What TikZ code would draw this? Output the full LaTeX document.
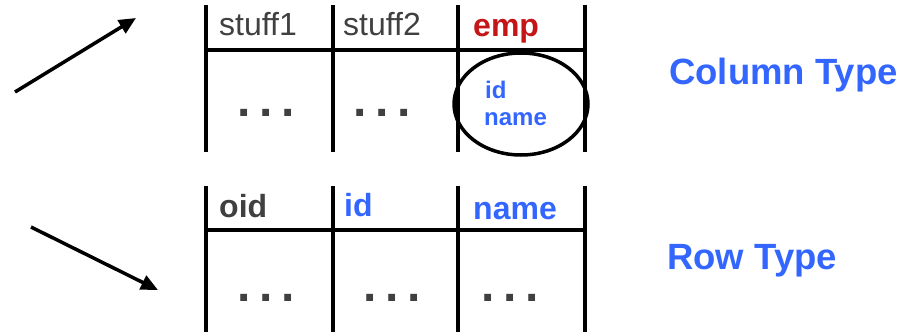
\documentclass[tikz,border=0pt]{standalone}
\usepackage{fontspec}
\setmainfont{Liberation Sans}
\usetikzlibrary{arrows.meta,shapes.geometric}
\definecolor{txtgray}{HTML}{404040}
\definecolor{tblue}{HTML}{3366FF}
\definecolor{tred}{HTML}{C41616}
\newcommand{\tdots}{.\hspace{8.5pt}.\hspace{8.5pt}.}
\tikzset{
  grid/.style={line width=3.5pt, black},
  hdr/.style={anchor=base west, inner sep=0pt, font=\fontsize{32}{32}\selectfont},
  hdrb/.style={anchor=base west, inner sep=0pt, font=\fontsize{32}{32}\selectfont\bfseries},
  small/.style={anchor=base west, inner sep=0pt, font=\fontsize{24}{24}\selectfont\bfseries, text=tblue},
  dots/.style={anchor=base, inner sep=0pt, font=\fontsize{48}{48}\selectfont\bfseries, text=txtgray},
  label/.style={anchor=base west, inner sep=0pt, font=\fontsize{36.5}{36.5}\selectfont\bfseries, text=tblue},
  arr/.style={line width=3.5pt, -{Triangle[length=17pt,width=15pt]}}
}
\begin{document}
\begin{tikzpicture}[x=1pt,y=-1pt]
\useasboundingbox (0,0) rectangle (909,332);
% top table
\draw[grid] (206,5) -- (206,152) (333,5) -- (333,152) (458,5) -- (458,152) (585,5) -- (585,152);
\draw[grid] (206,50) -- (585,50);
\node[hdr, text=txtgray] (s1) at (219,35) {stuff1};
\node[hdr, text=txtgray] (s2) at (343,35) {stuff2};
\node[hdrb, text=tred] (emp) at (473,36) {emp};
\node[dots] (d1) at (266,116.5) {\tdots};
\node[dots] (d2) at (382,116.5) {\tdots};
\node[draw, line width=3.5pt, ellipse, minimum width=134pt, minimum height=102pt, inner sep=0pt] (ell) at (521,104) {};
\node[small] (eid) at (485,98) {id};
\node[small] (ename) at (484,125) {name};
% bottom table
\draw[grid] (206,186) -- (206,332) (333,186) -- (333,332) (458,186) -- (458,332) (585,186) -- (585,332);
\draw[grid] (206,230) -- (585,230);
\node[hdrb, text=txtgray] (oid) at (219,217) {oid};
\node[hdrb, text=tblue] (rid) at (344,216) {id};
\node[hdrb, text=tblue] (rname) at (473,219) {name};
\node[dots] (d3) at (266,301.5) {\tdots};
\node[dots] (d4) at (392,301.5) {\tdots};
\node[dots] (d5) at (510,301.5) {\tdots};
% labels
\node[label] (ct) at (669,84) {Column Type};
\node[label] (rt) at (667,269) {Row Type};
% arrows
\coordinate (a1s) at (15,92);
\coordinate (a1e) at (136,18);
\coordinate (a2s) at (31,227);
\coordinate (a2e) at (158,290);
\draw[arr] (a1s) -- (a1e);
\draw[arr] (a2s) -- (a2e);
\end{tikzpicture}
\end{document}
